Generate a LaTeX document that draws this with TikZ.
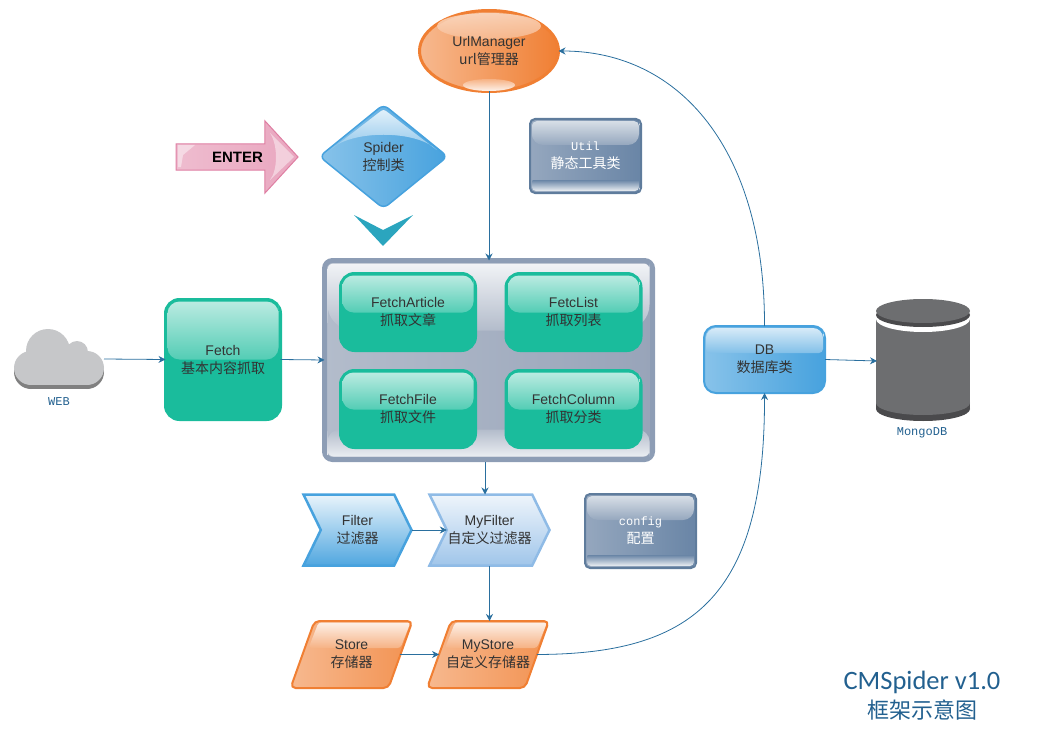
\documentclass[tikz,border=0pt]{standalone}
\usepackage{fontspec}
\setmainfont{Liberation Sans}
\setmonofont{Liberation Mono}
\newfontfamily\cjk{Noto Sans CJK SC}
\newfontfamily\titlefont{Carlito}
\usetikzlibrary{arrows.meta,shapes.geometric,shapes.symbols,shapes.arrows}
\definecolor{linkblue}{HTML}{2A6F9E}
\definecolor{labelblue}{HTML}{22608F}
\definecolor{inktext}{HTML}{333333}
\definecolor{tealbox}{HTML}{1ABC9C}
\definecolor{slateedge}{HTML}{5F7C9C}
\definecolor{slateleft}{HTML}{95A7BE}
\definecolor{slateright}{HTML}{6985A6}
\definecolor{paneledge}{HTML}{8D9DB5}
\definecolor{panelleft}{HTML}{B3BCCB}
\definecolor{panelright}{HTML}{98A4B9}
\definecolor{orangeedge}{HTML}{F07F33}
\definecolor{blueedge}{HTML}{47A2DE}
\definecolor{paleedge}{HTML}{8FBBE6}
\definecolor{roseedge}{HTML}{DF7FA3}
\definecolor{rosefill}{HTML}{E9A6BF}
\definecolor{chevrontone}{HTML}{2BA5BE}
\definecolor{cloudgrey}{HTML}{C6C7C9}
\definecolor{drumgrey}{HTML}{6D6E70}
\definecolor{drumdark}{HTML}{4A4A4C}
% band at the top and at the bottom of a box: name, colours, inset, height, two radii
\newcommand{\toplight}[7]{\shade[top color=#2,bottom color=#3]
  ([shift={(#4,{(#4+#5)/2})}]#1.north west) [rounded corners=#6pt] -- ([shift={(#4,#4)}]#1.north west) -- ([shift={(-#4,#4)}]#1.north east)
  -- ([shift={(-#4,#4+#6)}]#1.north east) [rounded corners=#7pt] -- ([shift={(-#4,#5)}]#1.north east) -- ([shift={(#4,#5)}]#1.north west) -- cycle;}
\newcommand{\botlight}[7]{\shade[top color=#2,bottom color=#3]
  ([shift={(#4,{-(#4+#5)/2})}]#1.south west) [rounded corners=#6pt] -- ([shift={(#4,-#4)}]#1.south west) -- ([shift={(-#4,-#4)}]#1.south east)
  -- ([shift={(-#4,-#4-#6)}]#1.south east) [rounded corners=#7pt] -- ([shift={(-#4,-#5)}]#1.south east) -- ([shift={(#4,-#5)}]#1.south west) -- cycle;}
\newcommand{\twoline}[2]{#1\\{\cjk #2}}
\newcommand{\monoline}[2]{{\ttfamily\fontsize{12}{18}\selectfont #1}\\{\cjk #2}}
\begin{document}
\begin{tikzpicture}[x=1pt,y=-1pt,
  every node/.style={inner sep=0pt,outer sep=0pt,align=center,text=inktext,font=\fontsize{14}{18}\selectfont},
  link/.style={draw=linkblue,line width=0.8pt,-{Stealth[length=7pt,width=7pt]}},
  fetchbox/.style={draw=tealbox,fill=tealbox,line width=3pt,rounded corners=14pt},
  utilbox/.style={draw=slateedge,line width=2pt,rounded corners=5pt,left color=slateleft,right color=slateright,
    minimum width=111pt,minimum height=74pt},
  filterbox/.style={signal,signal to=east,signal from=west,signal pointer angle=128,line width=2.5pt,minimum width=108pt,minimum height=71pt},
  storebox/.style={trapezium,trapezium stretches=true,trapezium left angle=68.6,trapezium right angle=111.4,rounded corners=5pt,
    draw=orangeedge,line width=2pt,left color=orangeedge!55!white,right color=orangeedge!85!white,minimum width=122pt,minimum height=67pt},
  caption/.style={text=labelblue,font=\ttfamily\fontsize{12}{14}\selectfont}]
\useasboundingbox (0,0) rectangle (1052,741);

% cloud
\foreach \dy/\tone in {4/gray,0/cloudgrey}{
  \fill[\tone] (31,368+\dy) circle (17) (48,351+\dy) circle (22) (77,352+\dy) circle (11) (87,368+\dy) circle (17);
  \fill[\tone] (31,352+\dy) rectangle (87,385+\dy);
}
\node (cloud) [minimum width=90pt,minimum height=60pt] at (59,359) {};
\node[caption] (weblabel) at (59,402) {WEB};

% drum
\fill[drumdark] (876,400) rectangle (970,409);
\fill[drumdark] (923,409) ellipse (47 and 12);
\fill[drumgrey] (876,319) rectangle (970,403);
\fill[drumgrey] (923,403) ellipse (47 and 12);
\fill[white] (923,319) ellipse (47 and 13);
\fill[drumdark] (923,315) ellipse (47 and 12);
\fill[drumgrey] (923,311) ellipse (47 and 12);
\node (mongo) [minimum width=93pt,minimum height=100pt] at (923.5,361) {};
\node[caption] (mongolabel) at (922,433) {MongoDB};

\node[ellipse,draw=orangeedge,line width=3pt,left color=orangeedge!55!white,right color=orangeedge,
  minimum width=139pt,minimum height=81pt] (urlmgr) at (489,51) {};
\shade[top color=orangeedge!25!white,bottom color=orangeedge!50!white,opacity=.8] (489,26) ellipse (52 and 13);
\shade[top color=orangeedge!60!white,bottom color=orangeedge!10!white] (489,85) ellipse (26 and 6);
\node (urltext) at (urlmgr) {\twoline{UrlManager}{url管理器}};

\node[diamond,aspect=1.2,draw=blueedge,line width=1.5pt,rounded corners=6pt,left color=blueedge!65!white,right color=blueedge,
  minimum width=128pt,minimum height=104pt] (spider) at (383.5,156.5) {};
\shade[top color=blueedge!15!white,bottom color=blueedge!62!white,rounded corners=3pt]
  (383.5,109) -- (438,151) .. controls (415,130) and (352,130) .. (329,151) -- cycle;
\node (spidertext) at (spider) {\twoline{Spider}{控制类}};

\fill[chevrontone] (354,215) -- (383,230) -- (413,215) -- (383,246) -- cycle;

\node[single arrow,draw=roseedge,line width=1pt,left color=rosefill!75!white,right color=rosefill,
  single arrow head indent=0pt,single arrow head extend=23pt,single arrow tip angle=95,inner ysep=7.5pt,
  minimum height=122pt,minimum width=72pt,text=black,font=\bfseries\fontsize{15}{18}\selectfont] (enter) at (231,157) {\hspace*{13pt}ENTER};
\fill[white,opacity=.45] (178,145) -- (195,145) -- (183,155) -- (181,167) -- (178,167) -- cycle;
\fill[white,opacity=.45] (270,133) .. controls (278,145) and (278,170) .. (270,180) -- (294,157) -- cycle;

\node[utilbox] (util) at (585.5,156) {};
\toplight{util}{slateedge!25!white}{slateleft}{2}{26}{5}{11}
\botlight{util}{slateright}{slateedge!12!white}{2}{13}{4}{1}
\node[text=white] (utiltext) at (util) {\monoline{Util}{静态工具类}};

\node[rounded corners=8pt,draw=paneledge,line width=5pt,left color=panelleft,right color=panelright,
  minimum width=328pt,minimum height=199pt] (panel) at (488.5,360) {};
\toplight{panel}{paneledge!12!white}{panelleft}{3}{70}{6}{26}
\botlight{panel}{panelleft}{paneledge!18!white}{3}{30}{6}{12}

\node[fetchbox,minimum width=115pt,minimum height=120pt] (fetch) at (223,359.5) {};
\toplight{fetch}{tealbox!30!white}{tealbox!75!white}{2}{60}{12}{12}
\node (fetchtext) at (fetch) {\twoline{Fetch}{基本内容抓取}};

\foreach \boxname/\cx/\cy/\latin/\han in {article/408/312/FetchArticle/抓取文章,list/573.5/312/FetcList/抓取列表,
  file/408/409/FetchFile/抓取文件,column/573.5/409/FetchColumn/抓取分类}{
  \node[fetchbox,minimum width=135pt,minimum height=77pt] (\boxname) at (\cx,\cy) {};
  \toplight{\boxname}{tealbox!30!white}{tealbox!75!white}{2}{39}{11}{11}
  \node (\boxname text) at (\boxname) {\twoline{\latin}{\han}};
}

\node[filterbox,draw=blueedge,shading=axis,top color=blueedge!12!white,middle color=blueedge!65!white,bottom color=blueedge!95!white] (filter) at (357.5,530) {\twoline{Filter}{过滤器}};
\node[filterbox,draw=paleedge,shading=axis,top color=paleedge!15!white,middle color=paleedge!65!white,bottom color=paleedge!85!white,minimum width=120pt] (myfilter) at (489.5,530) {\twoline{MyFilter}{自定义过滤器}};

\node[utilbox] (config) at (640.5,531) {};
\toplight{config}{slateedge!25!white}{slateleft}{2}{26}{5}{11}
\botlight{config}{slateright}{slateedge!12!white}{2}{13}{4}{1}
\node[text=white] (configtext) at (config) {\monoline{config}{配置}};

\foreach \boxname/\cx/\latin/\han in {store/351.5/Store/存储器,mystore/488/MyStore/自定义存储器}{
  \node[storebox] (\boxname) at (\cx,654.5) {\phantom{M}};
  \shade[top color=orangeedge!12!white,bottom color=orangeedge!60!white,rounded corners=3pt]
    (\cx-33,622.5) -- (\cx+59,622.5) -- (\cx+49,648) -- (\cx-43,648) -- cycle;
  \node (\boxname text) at (\boxname) {\twoline{\latin}{\han}};
}

\node[draw=blueedge,line width=2pt,rounded corners=12pt,left color=blueedge!65!white,right color=blueedge,
  minimum width=121pt,minimum height=67pt] (db) at (764.5,359.5) {};
\toplight{db}{blueedge!22!white}{blueedge!68!white}{2}{27}{10}{4}
\node (dbtext) at (db) {\twoline{DB}{数据库类}};

\node[text=labelblue,font=\titlefont\fontsize{26.5}{29}\selectfont] (titletext) at (922,696) {CMSpider v1.0\\{\cjk\fontsize{22}{29}\selectfont 框架示意图}};

\coordinate (panelout) at (485,462);
\draw[link] (cloud.east) -- (fetch.west);
\draw[link] (fetch.east) -- (panel.west);
\draw[link] (urlmgr.south) -- (urlmgr.south |- panel.north);
\draw[link] (panelout) -- (panelout |- myfilter.north);
\draw[link] (filter.east) -- (myfilter.west);
\draw[link] (myfilter.south) -- (myfilter.south |- mystore.north);
\draw[link] (store.east) -- (mystore.west);
\draw[link] (db.east) -- (mongo.west);
\draw[link] (mystore.east) .. controls (690,654) and (765,600) .. (db.south);
\draw[link] (db.north) .. controls (765,150) and (680,51) .. (urlmgr.east);
\end{tikzpicture}
\end{document}
